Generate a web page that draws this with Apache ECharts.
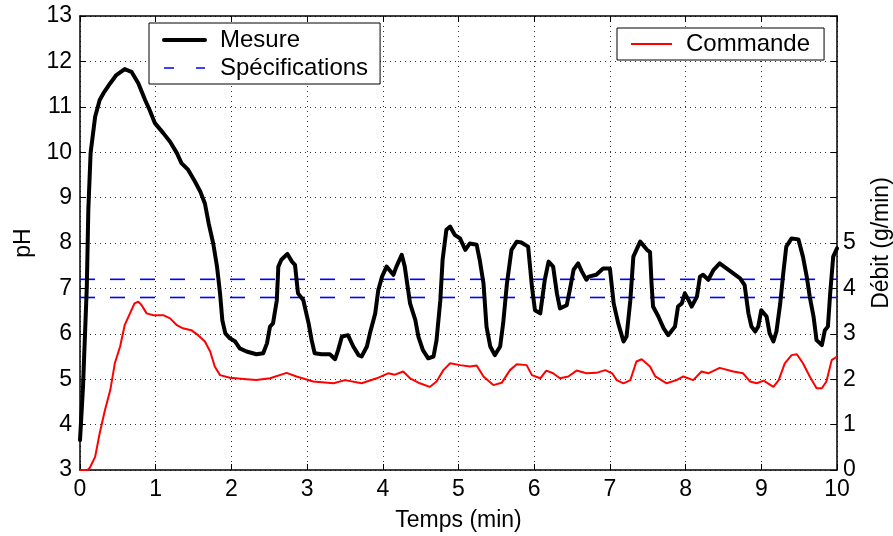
<!DOCTYPE html>
<html>
<head>
<meta charset="utf-8">
<script src="https://cdn.jsdelivr.net/npm/echarts@6/dist/echarts.min.js"></script>
<style>
html,body{margin:0;padding:0;background:#fff;}
#chart{width:893px;height:536px;}
</style>
</head>
<body>
<div id="chart"></div>
<script>
// ---- Data ----
const mesureTemps = [0.00,0.04,0.09,0.11,0.14,0.20,0.26,0.31,0.40,0.48,0.59,0.68,0.77,0.86,0.92,0.99,1.10,1.19,1.28,1.34,1.43,1.52,1.59,1.65,1.70,1.76,1.81,1.85,1.88,1.92,1.98,2.05,2.11,2.20,2.33,2.42,2.47,2.51,2.55,2.60,2.62,2.66,2.74,2.80,2.84,2.88,2.95,3.02,3.06,3.10,3.19,3.30,3.37,3.41,3.46,3.54,3.61,3.68,3.72,3.79,3.83,3.90,3.94,3.99,4.05,4.14,4.18,4.25,4.29,4.36,4.43,4.47,4.53,4.60,4.67,4.71,4.76,4.79,4.84,4.89,4.95,5.02,5.09,5.15,5.24,5.28,5.33,5.37,5.42,5.48,5.55,5.59,5.64,5.70,5.77,5.83,5.92,5.97,6.01,6.08,6.14,6.19,6.25,6.30,6.34,6.43,6.47,6.52,6.58,6.63,6.69,6.72,6.82,6.91,7.00,7.05,7.11,7.18,7.22,7.27,7.31,7.40,7.49,7.53,7.55,7.57,7.64,7.71,7.77,7.86,7.90,7.95,7.99,8.04,8.08,8.15,8.19,8.23,8.30,8.37,8.45,8.54,8.63,8.72,8.78,8.83,8.87,8.92,8.96,9.00,9.07,9.11,9.16,9.20,9.25,9.29,9.33,9.40,9.49,9.55,9.60,9.64,9.69,9.73,9.80,9.84,9.88,9.91,9.95,10.00];
const mesurePH = [3.66,4.84,7.04,8.73,9.98,10.78,11.15,11.30,11.52,11.70,11.83,11.77,11.52,11.15,10.93,10.64,10.42,10.23,9.98,9.76,9.61,9.35,9.13,8.87,8.43,7.99,7.48,6.89,6.30,6.01,5.90,5.83,5.68,5.61,5.55,5.57,5.79,6.16,6.23,6.74,7.48,7.63,7.76,7.59,7.52,6.89,6.74,6.23,5.86,5.57,5.55,5.55,5.44,5.64,5.94,5.97,5.72,5.53,5.50,5.72,6.01,6.45,6.96,7.26,7.48,7.30,7.48,7.74,7.48,6.67,6.30,5.94,5.64,5.46,5.50,5.86,6.74,7.63,8.29,8.36,8.18,8.10,7.85,7.99,7.96,7.63,7.11,6.16,5.72,5.53,5.72,6.23,7.11,7.85,8.03,8.01,7.92,7.04,6.52,6.45,7.19,7.59,7.48,6.89,6.56,6.63,6.96,7.41,7.55,7.37,7.19,7.26,7.30,7.44,7.44,6.67,6.23,5.83,5.94,6.74,7.70,8.03,7.85,7.80,7.11,6.60,6.38,6.12,5.97,6.16,6.60,6.67,6.89,6.74,6.60,6.82,7.26,7.30,7.19,7.41,7.55,7.44,7.33,7.22,7.07,6.45,6.16,6.05,6.16,6.52,6.38,6.01,5.83,6.05,6.67,7.33,7.92,8.10,8.08,7.70,7.26,6.82,6.38,5.86,5.75,6.08,6.16,6.89,7.70,7.88];

const commandeTemps = [0.00,0.10,0.13,0.20,0.26,0.33,0.40,0.46,0.53,0.59,0.66,0.72,0.77,0.81,0.88,0.97,1.10,1.19,1.28,1.36,1.47,1.56,1.65,1.72,1.78,1.85,1.98,2.20,2.33,2.51,2.73,2.86,3.08,3.35,3.50,3.72,3.92,4.07,4.16,4.27,4.36,4.49,4.62,4.71,4.80,4.89,5.02,5.15,5.24,5.33,5.46,5.57,5.68,5.77,5.90,5.97,6.08,6.16,6.25,6.34,6.45,6.56,6.69,6.82,6.94,7.03,7.09,7.18,7.27,7.35,7.42,7.53,7.60,7.75,7.88,7.97,8.10,8.21,8.30,8.45,8.63,8.76,8.85,8.94,9.03,9.16,9.23,9.31,9.40,9.47,9.55,9.64,9.73,9.80,9.86,9.93,10.00];
const commandeDebit = [0.00,0.00,0.05,0.29,0.81,1.32,1.76,2.35,2.72,3.19,3.45,3.67,3.71,3.64,3.45,3.41,3.41,3.34,3.19,3.12,3.08,2.97,2.83,2.61,2.28,2.09,2.03,2.00,1.98,2.02,2.14,2.06,1.95,1.91,1.98,1.91,2.02,2.13,2.10,2.17,2.02,1.91,1.83,1.95,2.20,2.35,2.31,2.28,2.30,2.06,1.87,1.92,2.20,2.33,2.31,2.09,2.02,2.19,2.13,2.02,2.06,2.19,2.13,2.14,2.20,2.13,1.98,1.91,1.98,2.39,2.44,2.28,2.06,1.91,1.98,2.06,1.98,2.17,2.13,2.25,2.17,2.13,1.95,1.91,1.97,1.83,1.98,2.35,2.53,2.55,2.35,2.06,1.80,1.80,1.95,2.42,2.50];

const specTemps = [0, 10];
const specHaute = [7.2, 7.2];
const specBasse = [6.8, 6.8];

const debitLabels = ['0','1','2','3','4','5'];

// ---- Chart ----
const FONT = '"Liberation Sans", Arial, Helvetica, sans-serif';
const pair = (xs, ys) => xs.map((x, i) => [x, ys[i]]);

const chart = echarts.init(document.getElementById('chart'), null, {renderer: 'canvas'});

const tickStyle = {show: true, inside: true, length: 6, lineStyle: {color: '#000', width: 1}};
const axisLineStyle = {show: true, onZero: false, lineStyle: {color: '#000', width: 1.5}};
const gridLine = {show: true, lineStyle: {color: '#333', width: 1, type: [1, 4]}};
const hideSymbol = {opacity: 0};

chart.setOption({
  animation: false,
  backgroundColor: '#fff',
  textStyle: {fontFamily: FONT},
  grid: {left: 80, right: 56, top: 16, bottom: 66, containLabel: false, outerBoundsMode: 'none'},
  legend: [
    {
      data: [
        {name: 'Mesure', itemStyle: hideSymbol, lineStyle: {color: '#000', width: 4}},
        {name: 'Spécifications', itemStyle: hideSymbol, lineStyle: {color: '#0000ff', width: 1.6, type: [10, 22]}}
      ],
      orient: 'vertical',
      left: 149, top: 23,
      padding: [5, 12, 4, 13],
      itemGap: 4,
      itemWidth: 41, itemHeight: 14,
      backgroundColor: '#fff',
      borderColor: '#000', borderWidth: 1,
      itemStyle: hideSymbol,
      textStyle: {fontFamily: FONT, fontSize: 24, color: '#000', padding: [0, 0, 0, 10]},
      selectedMode: false
    },
    {
      data: [
        {name: 'Commande', itemStyle: hideSymbol, lineStyle: {color: '#ff0000', width: 2}}
      ],
      orient: 'vertical',
      left: 617, top: 28,
      padding: [4, 14, 4, 13],
      itemWidth: 41, itemHeight: 14,
      backgroundColor: '#fff',
      borderColor: '#000', borderWidth: 1,
      itemStyle: hideSymbol,
      textStyle: {fontFamily: FONT, fontSize: 24, color: '#000', padding: [0, 0, 0, 9]},
      selectedMode: false
    }
  ],
  xAxis: [
    {
      type: 'value', min: 0, max: 10, interval: 1,
      name: 'Temps (min)', nameLocation: 'middle', nameGap: 39,
      nameTextStyle: {fontFamily: FONT, fontSize: 23, color: '#000'},
      axisLine: axisLineStyle, axisTick: tickStyle,
      axisLabel: {fontFamily: FONT, fontSize: 23, color: '#000', margin: 8},
      splitLine: gridLine
    },
    {
      type: 'value', min: 0, max: 10, interval: 1, position: 'top',
      axisLine: axisLineStyle, axisTick: tickStyle,
      axisLabel: {show: false}, splitLine: {show: false}
    }
  ],
  yAxis: [
    {
      type: 'value', min: 3, max: 13, interval: 1,
      name: 'pH', nameLocation: 'middle', nameGap: 44, nameRotate: 90,
      nameTextStyle: {fontFamily: FONT, fontSize: 23, color: '#000'},
      axisLine: axisLineStyle, axisTick: tickStyle,
      axisLabel: {fontFamily: FONT, fontSize: 23, color: '#000', margin: 8},
      splitLine: gridLine
    },
    {
      type: 'value', min: 0, max: 10, interval: 1, position: 'right',
      name: 'Débit (g/min)', nameLocation: 'middle', nameGap: 33, nameRotate: 90,
      nameTextStyle: {fontFamily: FONT, fontSize: 23, color: '#000'},
      axisLine: axisLineStyle, axisTick: tickStyle,
      axisLabel: {
        fontFamily: FONT, fontSize: 23, color: '#000', margin: 6,
        formatter: v => (debitLabels.indexOf(String(v)) >= 0 ? String(v) : '')
      },
      splitLine: {show: false}
    }
  ],
  series: [
    {
      name: 'Spécifications', type: 'line', xAxisIndex: 0, yAxisIndex: 0,
      data: pair(specTemps, specHaute), symbol: 'none', silent: true, z: 2,
      itemStyle: {color: '#0000ff'},
      lineStyle: {color: '#0000ff', width: 1.6, type: [15, 15]}
    },
    {
      name: 'Spécifications', type: 'line', xAxisIndex: 0, yAxisIndex: 0,
      data: pair(specTemps, specBasse), symbol: 'none', silent: true, z: 2,
      itemStyle: {color: '#0000ff'},
      lineStyle: {color: '#0000ff', width: 1.6, type: [15, 15]}
    },
    {
      name: 'Commande', type: 'line', xAxisIndex: 0, yAxisIndex: 1,
      data: pair(commandeTemps, commandeDebit), symbol: 'none', silent: true, z: 3,
      itemStyle: {color: '#ff0000'},
      lineStyle: {color: '#ff0000', width: 2}
    },
    {
      name: 'Mesure', type: 'line', xAxisIndex: 0, yAxisIndex: 0,
      data: pair(mesureTemps, mesurePH), symbol: 'none', silent: true, z: 4,
      itemStyle: {color: '#000'},
      lineStyle: {color: '#000', width: 4, join: 'round', cap: 'round'}
    }
  ]
});
</script>
</body>
</html>
